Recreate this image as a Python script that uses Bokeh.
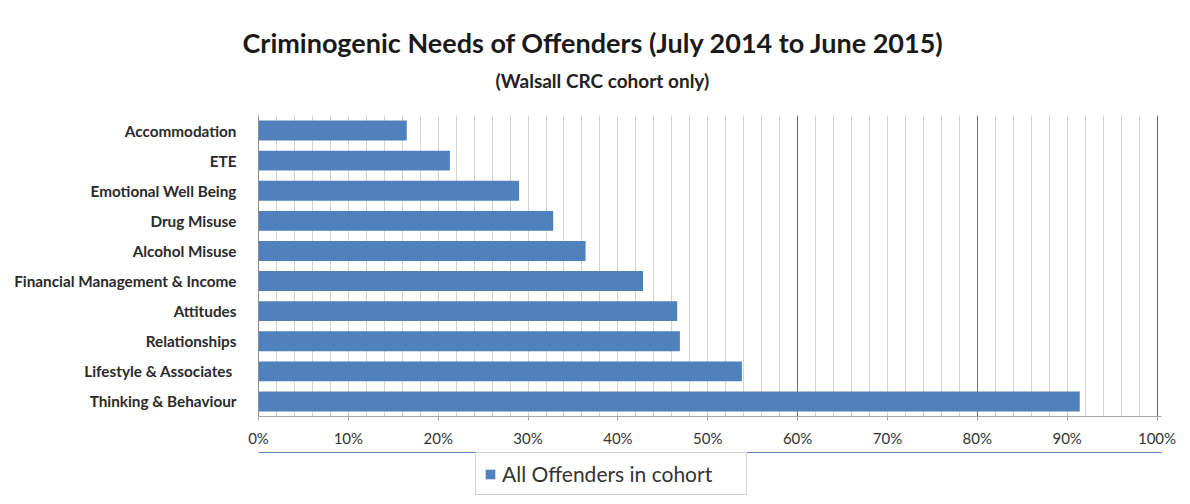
from bokeh.plotting import figure
from bokeh.layouts import column
from bokeh.models import (FactorRange, Range1d, FixedTicker, PrintfTickFormatter,
                          Grid, Legend, LegendItem, Title, ColumnDataSource)
from bokeh.embed import file_html
from bokeh.resources import INLINE

# ---- data (top-to-bottom order as shown) ----
categories = ["Accommodation", "ETE", "Emotional Well Being", "Drug Misuse",
              "Alcohol Misuse", "Financial Management & Income", "Attitudes",
              "Relationships", "Lifestyle &  Associates", "Thinking & Behaviour"]
values = [16.5, 21.3, 29.0, 32.8, 36.4, 42.8, 46.6, 46.9, 53.8, 91.4]
x_ticks = [0, 10, 20, 30, 40, 50, 60, 70, 80, 90, 100]
series_name = "All Offenders in cohort"
title_text = "Criminogenic Needs of Offenders (July 2014 to June 2015)"
subtitle_text = "(Walsall CRC cohort only)"

FONT = "Lato"
BLUE = "#4F81BD"

# ---- title strip ----
t = figure(width=1190, height=97, output_backend="svg", toolbar_location=None,
           x_range=Range1d(0, 1), y_range=Range1d(0, 1),
           min_border_left=258, min_border_right=29, min_border_top=91,
           min_border_bottom=0)
t.axis.visible = False
t.grid.visible = False
t.outline_line_color = None
t.background_fill_color = "white"
t.border_fill_color = "white"
t.title = None
sub = Title(text=subtitle_text, align="left", offset=237, text_font=FONT,
            text_font_size="19px", text_font_style="bold", text_color="#222222",
            standoff=0)
main = Title(text=title_text, align="left", offset=-16, text_font=FONT,
             text_font_size="27px", text_font_style="bold", text_color="#1a1a1a",
             standoff=16)
t.add_layout(sub, "above")
t.add_layout(main, "above")

# ---- main chart ----
src = ColumnDataSource(dict(cat=categories, val=values))

p = figure(width=1190, height=355, output_backend="svg", toolbar_location=None,
           y_range=FactorRange(factors=list(reversed(categories)), range_padding=0),
           x_range=Range1d(0, 100.5),
           min_border_left=258, min_border_right=29, min_border_top=18,
           min_border_bottom=36)
p.title = None

r = p.hbar(y="cat", right="val", left=0, height=0.66, source=src,
           fill_color=BLUE, line_color=None)

xa = p.xaxis[0]
xa.ticker = FixedTicker(ticks=x_ticks, minor_ticks=list(range(0, 101, 2)))
xa.formatter = PrintfTickFormatter(format="%d%%")
xa.axis_line_color = "#a6a6a6"
xa.major_tick_line_color = "#a6a6a6"
xa.major_tick_out = 4
xa.major_tick_in = 0
xa.minor_tick_line_color = None
xa.major_label_text_font = FONT
xa.major_label_text_font_size = "15px"
xa.major_label_text_font_style = "normal"
xa.major_label_text_color = "#333333"
xa.major_label_standoff = 8

ya = p.yaxis[0]
ya.axis_line_color = "#8c8c8c"
ya.major_tick_line_color = None
ya.minor_tick_line_color = None
ya.major_label_text_font = FONT
ya.major_label_text_font_size = "15.3px"
ya.major_label_text_font_style = "bold"
ya.major_label_text_color = "#2a2a2a"
ya.major_label_standoff = 16

p.ygrid.grid_line_color = None
p.xgrid.grid_line_color = "#d3d3d3"
p.xgrid.minor_grid_line_color = "#d3d3d3"
p.xgrid.level = "underlay"

dark = Grid(dimension=0, ticker=FixedTicker(ticks=[60, 80, 100]),
            grid_line_color="#6e6e6e", level="underlay")
p.add_layout(dark)

p.outline_line_color = None
p.background_fill_color = "white"
p.border_fill_color = "white"

# ---- legend strip below the chart ----
q = figure(width=1190, height=52, output_backend="svg", toolbar_location=None,
           x_range=Range1d(0, 1), y_range=Range1d(0, 1),
           min_border_left=258, min_border_right=29, min_border_top=0,
           min_border_bottom=0)
q.axis.visible = False
q.grid.visible = False
q.outline_line_color = None
q.background_fill_color = "white"
q.border_fill_color = "white"
q.title = None
# legend swatch renderer: same series, zero-height so nothing shows in the strip
lr = q.hbar(y="val", right="val", left=0, height=0, source=src,
            fill_color=BLUE, line_color=None)
legend = Legend(items=[LegendItem(label=series_name, renderers=[lr])],
                location=(217, 9), orientation="horizontal",
                label_text_font=FONT, label_text_font_size="21px",
                label_text_color="#333333", glyph_width=12, glyph_height=12,
                label_width=236,
                border_line_color="#9aa8bc", border_line_width=1,
                background_fill_color="white",
                padding=8, margin=0, spacing=4, label_standoff=6)
q.add_layout(legend)

layout = column(t, p, q, spacing=0)
open("out.html", "w").write(file_html(layout, INLINE))
